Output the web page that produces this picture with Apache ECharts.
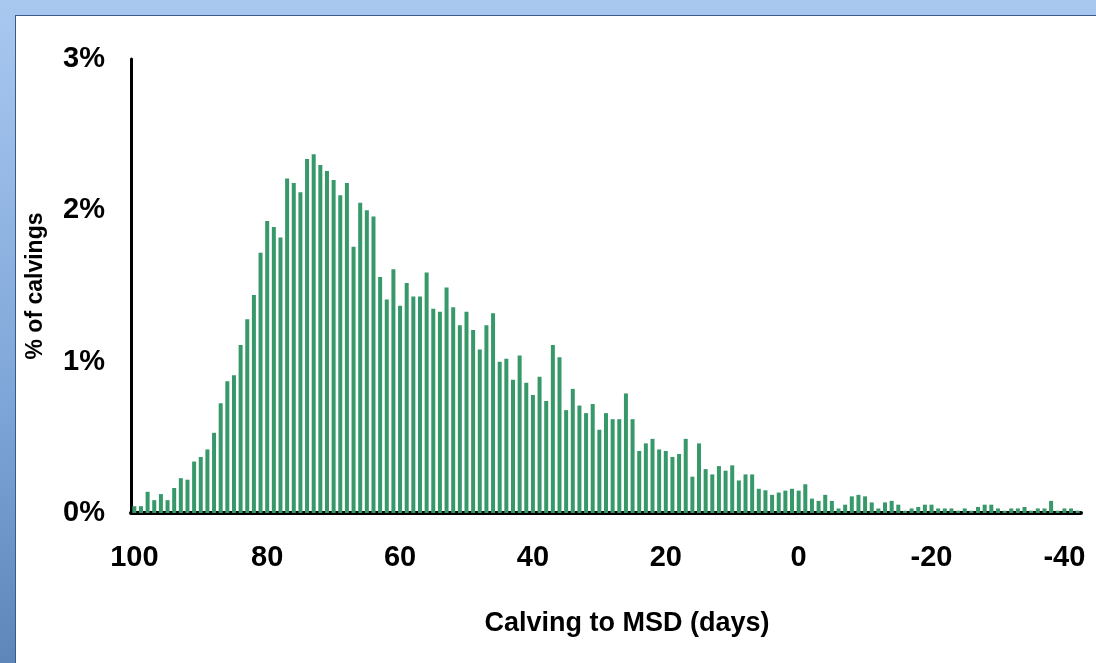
<!DOCTYPE html>
<html>
<head>
<meta charset="utf-8">
<script src="https://cdn.jsdelivr.net/npm/echarts@6/dist/echarts.min.js"></script>
<style>
html,body{margin:0;padding:0;}
body{width:1096px;height:663px;background:linear-gradient(180deg,#a9c8f0 0%,#7ea6d8 60%,#5f86b8 100%);position:relative;overflow:hidden;}
#chart{position:absolute;left:15px;top:15px;width:1081px;height:648px;background:#fff;border-left:1px solid #3a5a8a;border-top:1px solid #3a5a8a;}
</style>
</head>
<body>
<div id="chart"></div>
<script>
// days from 100 down to -42
var days = [];
for (var d = 100; d >= -42; d--) days.push(d);

// % of calvings, one value per day
var pct = [
  0.045,0.045,0.14,0.085,0.125,0.085,0.165,0.23,0.22,0.34,
  0.37,0.42,0.53,0.725,0.87,0.91,1.11,1.28,1.44,1.72,
  1.93,1.89,1.82,2.21,2.18,2.12,2.34,2.37,2.30,2.26,
  2.20,2.10,2.18,1.76,2.05,2.00,1.96,1.56,1.41,1.61,
  1.37,1.52,1.43,1.43,1.59,1.35,1.33,1.49,1.36,1.24,
  1.33,1.21,1.08,1.24,1.32,1.00,1.02,0.88,1.04,0.86,
  0.78,0.90,0.74,1.11,1.03,0.68,0.82,0.71,0.66,0.72,
  0.55,0.66,0.62,0.62,0.79,0.62,0.41,0.46,0.49,0.42,
  0.41,0.37,0.39,0.49,0.24,0.46,0.29,0.255,0.31,0.28,
  0.315,0.215,0.255,0.255,0.16,0.15,0.12,0.135,0.148,0.16,
  0.148,0.19,0.095,0.08,0.12,0.08,0.03,0.055,0.11,0.12,
  0.11,0.07,0.03,0.07,0.08,0.055,0.015,0.03,0.04,0.055,
  0.055,0.03,0.03,0.03,0.015,0.03,0.015,0.04,0.055,0.055,
  0.03,0.015,0.03,0.03,0.04,0.015,0.03,0.03,0.08,0.015,
  0.03,0.03,0.015
];

var yTicks = [0, 1, 2, 3];

var chart = echarts.init(document.getElementById('chart'));
var font = 'Liberation Sans, Arial, sans-serif';
chart.setOption({
  animation: false,
  grid: {left: 112, right: 16, top: 43, bottom: 151, containLabel: false},
  xAxis: {
    type: 'category',
    data: days,
    axisLine: {lineStyle: {color: '#000', width: 4}},
    axisTick: {show: false},
    axisLabel: {
      interval: function (i, v) { return Number(v) % 20 === 0; },
      color: '#000', fontSize: 29, fontWeight: 'bold', fontFamily: font, margin: 30
    },
    name: 'Calving to MSD (days)',
    nameLocation: 'middle',
    nameGap: 97,
    nameTextStyle: {color: '#000', fontSize: 27, fontWeight: 'bold', fontFamily: font, padding: [0, 0, 0, 42]}
  },
  yAxis: {
    type: 'value',
    min: 0, max: yTicks[yTicks.length - 1], interval: 1,
    splitLine: {show: false},
    axisLine: {show: true, lineStyle: {color: '#000', width: 3}},
    axisTick: {show: false},
    axisLabel: {
      formatter: '{value}%',
      color: '#000', fontSize: 29, fontWeight: 'bold', fontFamily: font, margin: 26
    },
    name: '% of calvings',
    nameLocation: 'middle',
    nameGap: 84,
    nameRotate: 90,
    nameTextStyle: {color: '#000', fontSize: 23, fontWeight: 'bold', fontFamily: font}
  },
  series: [{
    type: 'bar',
    data: pct,
    barWidth: 4,
    itemStyle: {color: '#37996a'}
  }]
});
</script>
</body>
</html>
